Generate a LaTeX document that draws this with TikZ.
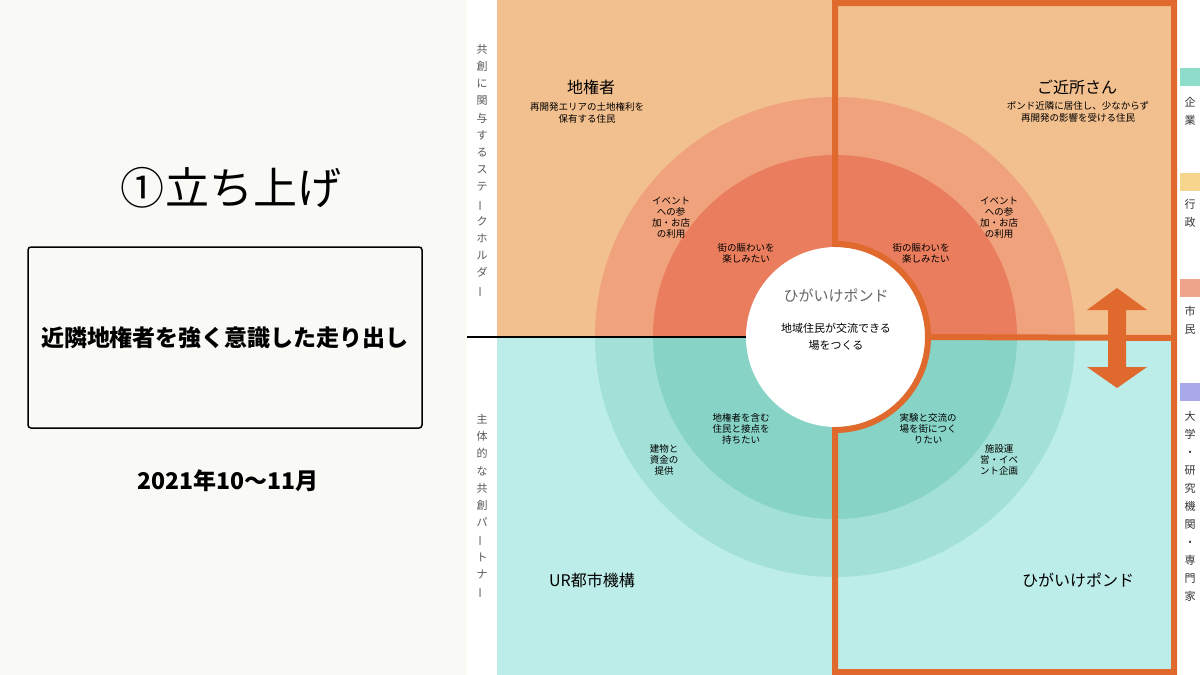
\documentclass[tikz,border=0pt]{standalone}
\usepackage{fontspec}
\setmainfont{Noto Sans CJK JP}
\usepackage{tikz}
\usetikzlibrary{calc}

\definecolor{leftbg}{HTML}{F9F9F5}
\definecolor{orquad}{HTML}{F2BF8E}
\definecolor{orringa}{HTML}{EFA27C}
\definecolor{orringb}{HTML}{EA7D5D}
\definecolor{cyquad}{HTML}{BDEDE9}
\definecolor{cyringa}{HTML}{A3E1D8}
\definecolor{cyringb}{HTML}{87D3C6}
\definecolor{framec}{HTML}{E0692D}
\definecolor{legcorp}{HTML}{8EDDCB}
\definecolor{leggov}{HTML}{F6D58C}
\definecolor{legcit}{HTML}{EEA48A}
\definecolor{leguni}{HTML}{A8A8EA}

\begin{document}
\begin{tikzpicture}[x=1pt,y=-1pt]
    \newcommand{\vbar}{\rotatebox[origin=c]{90}{ー}}
    \newcommand{\sz}[2]{\fontsize{#1}{#2}\selectfont}
    
    \tikzstyle{quad}=[font=\sz{16}{19}, inner sep=0]
    \tikzstyle{sub}=[font=\sz{9.5}{11.5}, align=center, inner sep=0]
    \tikzstyle{ring}=[font=\sz{9.5}{11}, align=center, inner sep=0]
    \tikzstyle{vlabel}=[font=\sz{11}{17.2}, text=black!65, align=center, anchor=north, inner sep=0]
    \tikzstyle{vlegend}=[vlabel, font=\sz{11}{18}, text=black!80]
    \tikzstyle{swatch}=[minimum width=20, minimum height=18, inner sep=0, anchor=north west]
    \tikzstyle{frame}=[line width=6, draw=framec, line join=miter]
    
    \useasboundingbox (0,0) rectangle (1200,675);
    
    {
      \fill[white] (0,0) rectangle (1200,675);
      \fill[leftbg] (0,0) rectangle (467,675);
    }
    
    {
      \node[font=\sz{44}{44}, inner sep=0] (title) at (231,188) {①\hspace{2pt}立ち上げ};
      \node[draw=black, line width=1.5, rounded corners=3, minimum width=394, minimum height=181,
            font=\bfseries\sz{23}{23}] (box) at (225,337.5) {近隣地権者を強く意識した走り出し};
      \node[font=\bfseries\sz{23}{23}, inner sep=0] (date) at (228,481) {2021年10〜11月};
    }
    
    {
      \begin{scope}
        \clip (497,0) rectangle (1175,337);
        \fill[orquad] (497,0) rectangle (1175,337);
        \fill[orringa] (835,337) circle (240);
        \fill[orringb] (835,337) circle (182);
      \end{scope}
      \begin{scope}
        \clip (497,337) rectangle (1175,675);
        \fill[cyquad] (497,337) rectangle (1175,675);
        \fill[cyringa] (835,337) circle (240);
        \fill[cyringb] (835,337) circle (182);
      \end{scope}
      \node[circle, fill=white, minimum size=180, inner sep=0] (hub) at (836,337) {};
    }
    
    {
      \coordinate (divL) at (467,337);
      \coordinate (splitR) at (1174,338);
      \draw[line width=2, black] (divL) -- (hub.west);
      \draw[frame] (835,3) -- (1174,3) -- (1174,672) -- (835,672) -- (835,430)
        arc[start angle=90, end angle=-90, radius=93] -- cycle;
      \draw[frame] (hub.east) -- (splitR);
      \fill[framec] (1117,288) -- (1147,310) -- (1126,310) -- (1126,367) -- (1147,367)
        -- (1117,388) -- (1087,367) -- (1108,367) -- (1108,310) -- (1087,310) -- cycle;
    }
    
    {
      \node[font=\sz{15}{15}, text=black!60, inner sep=0] (hubname) at (836,296) {ひがいけポンド};
      \node[font=\sz{11}{17}, align=center, inner sep=0] (hubgoal) at (836,337) {地域住民が交流できる\\場をつくる};
    }
    
    {
      \node[quad] (landowner) at (591,87) {地権者};
      \node[sub] (landownersub) at (587,113) {再開発エリアの土地権利を\\保有する住民};
      \node[quad] (neighbor) at (1077,87) {ご近所さん};
      \node[sub] (neighborsub) at (1078,112) {ポンド近隣に居住し、少なからず\\再開発の影響を受ける住民};
      \node[quad] (ur) at (592,580) {UR都市機構};
      \node[quad] (pond) at (1078,580) {ひがいけポンド};
    }
    
    {
      \node[ring] (tlout) at (671,218) {イベント\\への参\\加・お店\\の利用};
      \node[ring] (tlin) at (746,253) {街の賑わいを\\楽しみたい};
      \node[ring, align=right] (trin) at (921,253) {街の賑わいを\\楽しみたい};
      \node[ring] (trout) at (999,218) {イベント\\への参\\加・お店\\の利用};
      \node[ring] (blin) at (741,429) {地権者を含む\\住民と接点を\\持ちたい};
      \node[ring] (blout) at (664,460) {建物と\\資金の\\提供};
      \node[ring] (brin) at (928,429) {実験と交流の\\場を街につく\\りたい};
      \node[ring] (brout) at (999,460) {施設運\\営・イベ\\ント企画};
    }
    
    {
      \node[vlabel] (stake) at (482,44) {共\\創\\に\\関\\与\\す\\る\\ス\\テ\\\vbar\\ク\\ホ\\ル\\ダ\\\vbar};
      \node[vlabel] (partner) at (482,414) {主\\体\\的\\な\\共\\創\\パ\\\vbar\\ト\\ナ\\\vbar};
    }
    
    {
      \node[swatch, fill=legcorp] (swcorp) at (1180,68) {};
      \node[swatch, fill=leggov] (swgov) at (1180,173) {};
      \node[swatch, fill=legcit] (swcit) at (1180,279) {};
      \node[swatch, fill=leguni] (swuni) at (1180,383) {};
      \node[vlegend] (corp) at (1190,97) {企\\業};
      \node[vlegend] (gov) at (1190,199) {行\\政};
      \node[vlegend] (cit) at (1190,306) {市\\民};
      \node[vlegend] (uni) at (1190,411) {大\\学\\・\\研\\究\\機\\関\\・\\専\\門\\家};
    }
\end{tikzpicture}
\end{document}
